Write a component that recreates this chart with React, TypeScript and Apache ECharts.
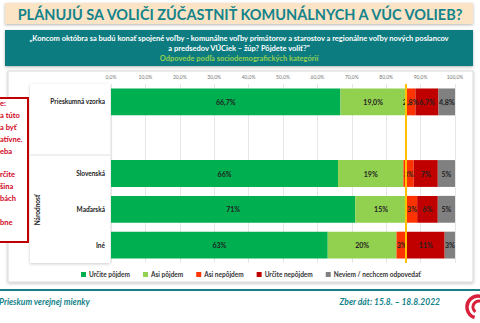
import React, { useEffect, useRef } from "react";
import * as echarts from "echarts";

const categories = ["Prieskumná vzorka", "", "Slovenská", "Maďarská", "Iné"];
const decimals = [1, 0, 0, 0, 0];
const seriesNames = ["Určite pôjdem", "Asi pôjdem", "Asi nepôjdem", "Určite nepôjdem", "Neviem / nechcem odpovedať"];
const urcitePojdem = [66.7, null, 66, 71, 63];
const asiPojdem = [19.0, null, 19, 15, 20];
const asiNepojdem = [2.8, null, 3, 3, 3];
const urciteNepojdem = [6.7, null, 7, 6, 11];
const neviem = [4.8, null, 5, 5, 3];
const threshold = 85.7;
const noteLines = ["e:", "a túto", "a byť", "atívne.", "eba", "", "rčite", "šina", "bách", "", "bne"];

const colors = ["#00b050", "#92d050", "#ff3300", "#c00000", "#808080"];
const TEAL = "#14838a";
const FONT = "Lato, 'Open Sans', sans-serif";

export default function App() {
  const ref = useRef<HTMLDivElement>(null);
  useEffect(() => {
    const chart = echarts.init(ref.current!, null, { renderer: "svg" });
    const values = [urcitePojdem, asiPojdem, asiNepojdem, urciteNepojdem, neviem];
    const series: any[] = values.map((d, i) => ({
      name: seriesNames[i],
      type: "bar",
      stack: "total",
      barWidth: "75%",
      data: d,
      itemStyle: { color: colors[i] },
      label: {
        show: true,
        position: "inside",
        fontFamily: FONT,
        fontSize: 7,
        fontWeight: "bold",
        color: "#222",
        formatter: (p: any) =>
          p.value == null ? "" : Number(p.value).toFixed(decimals[p.dataIndex]).replace(".", ",") + "%",
      },
      markLine:
        i === 0
          ? {
              silent: true,
              symbol: "none",
              label: { show: false },
              lineStyle: { color: "#ffc000", width: 2, type: "solid" },
              data: [{ xAxis: threshold }],
            }
          : undefined,
    }));

    const graphics: any[] = [
      { type: "rect", z: -5, shape: { x: 5, y: 3, width: 468, height: 21 }, style: { fill: "#fbe4c6", shadowBlur: 3, shadowColor: "rgba(0,0,0,0.3)", shadowOffsetY: 1 } },
      { type: "text", x: 240, y: 14, style: { text: "PLÁNUJÚ SA VOLIČI ZÚČASTNIŤ KOMUNÁLNYCH A VÚC VOLIEB?", fill: TEAL, font: `bold 14.5px ${FONT}`, textAlign: "center", textVerticalAlign: "middle" } },
      { type: "rect", z: -5, shape: { x: 5, y: 30, width: 468, height: 36 }, style: { fill: "#0e7b80", shadowBlur: 3, shadowColor: "rgba(0,0,0,0.3)", shadowOffsetY: 1 } },
      { type: "text", x: 239, y: 38, style: { text: "„Koncom októbra sa budú konať spojené voľby - komunálne voľby primátorov a starostov a regionálne voľby nových poslancov", fill: "#fff", font: `bold 7.5px ${FONT}`, textAlign: "center", textVerticalAlign: "middle" } },
      { type: "text", x: 239, y: 48, style: { text: "a predsedov VÚCiek – žúp? Pôjdete voliť?\"", fill: "#fff", font: `bold 7.5px ${FONT}`, textAlign: "center", textVerticalAlign: "middle" } },
      { type: "text", x: 239, y: 58, style: { text: "Odpovede podľa sociodemografických kategórií", fill: "#92d050", font: `bold 7.5px ${FONT}`, textAlign: "center", textVerticalAlign: "middle" } },
      { type: "rect", z: -10, shape: { x: 8, y: 71, width: 465, height: 211 }, style: { fill: "#fff", stroke: "#d9d9d9", lineWidth: 1, shadowBlur: 3, shadowColor: "rgba(0,0,0,0.25)", shadowOffsetY: 1 } },
      { type: "rect", z: -9, shape: { x: 30, y: 84, width: 80, height: 179 }, style: { fill: "#fff", shadowBlur: 3, shadowColor: "rgba(0,0,0,0.2)", shadowOffsetY: 1 } },
      { type: "line", z: -8, shape: { x1: 30, y1: 155, x2: 110, y2: 155 }, style: { stroke: "#e0e0e0", lineWidth: 1 } },
      { type: "text", x: 37, y: 210, rotation: Math.PI / 2, style: { text: "Národnosť", fill: "#222", font: `bold 6.5px ${FONT}`, textAlign: "center", textVerticalAlign: "middle" } },
      { type: "rect", shape: { x: -5, y: 98, width: 33, height: 144 }, style: { fill: "#fff", stroke: "#c00000", lineWidth: 2 } },
      ...noteLines.map((t, i) => ({ type: "text", x: 0, y: 103.5 + i * 11.9, style: { text: t, fill: "#d0021b", font: `bold 7.5px ${FONT}`, textAlign: "left", textVerticalAlign: "middle" } })),
      { type: "rect", shape: { x: 0, y: 289, width: 480, height: 2 }, style: { fill: "#1a7f87" } },
      { type: "text", x: -1, y: 302, style: { text: "Prieskum verejnej mienky", fill: TEAL, font: `italic bold 8.5px ${FONT}`, textAlign: "left", textVerticalAlign: "middle" } },
      { type: "text", x: 440, y: 302, style: { text: "Zber dát: 15.8. – 18.8.2022", fill: TEAL, font: `italic bold 8.5px ${FONT}`, textAlign: "right", textVerticalAlign: "middle" } },
      { type: "arc", shape: { cx: 478, cy: 307, r: 11, startAngle: Math.PI * 0.6, endAngle: Math.PI * 1.9 }, style: { stroke: "#d9213b", lineWidth: 3.5, fill: null } },
      { type: "arc", shape: { cx: 479, cy: 307, r: 6, startAngle: Math.PI * 0.7, endAngle: Math.PI * 1.6 }, style: { stroke: "#d9213b", lineWidth: 3, fill: null } },
    ];

    chart.setOption({
      animation: false,
      textStyle: { fontFamily: FONT },
      grid: { left: 111, right: 25, top: 84, bottom: 60, containLabel: false },
      xAxis: {
        type: "value",
        position: "top",
        min: 0,
        max: 100,
        interval: 10,
        axisLine: { show: false },
        axisTick: { show: false },
        axisLabel: { fontSize: 5, color: "#777", margin: 5, formatter: (v: number) => v.toFixed(1).replace(".", ",") + "%" },
        splitLine: { lineStyle: { color: "#e6e6e6", width: 1 } },
      },
      yAxis: {
        type: "category",
        inverse: true,
        data: categories,
        axisLine: { show: false },
        axisTick: { show: false },
        axisLabel: { fontSize: 6.5, fontWeight: "bold", color: "#222", margin: 6 },
      },
      legend: {
        bottom: 40,
        left: 76,
        itemWidth: 5,
        itemHeight: 5,
        itemGap: 13,
        icon: "rect",
        textStyle: { fontSize: 6.5, fontWeight: "bold", color: "#333", padding: [0, 0, 0, -2] },
        data: seriesNames,
      },
      graphic: graphics,
      series,
    });
    return () => chart.dispose();
  }, []);
  return <div ref={ref} style={{ position: "fixed", left: 0, top: 0, width: 480, height: 323, background: "#fff" }} />;
}
